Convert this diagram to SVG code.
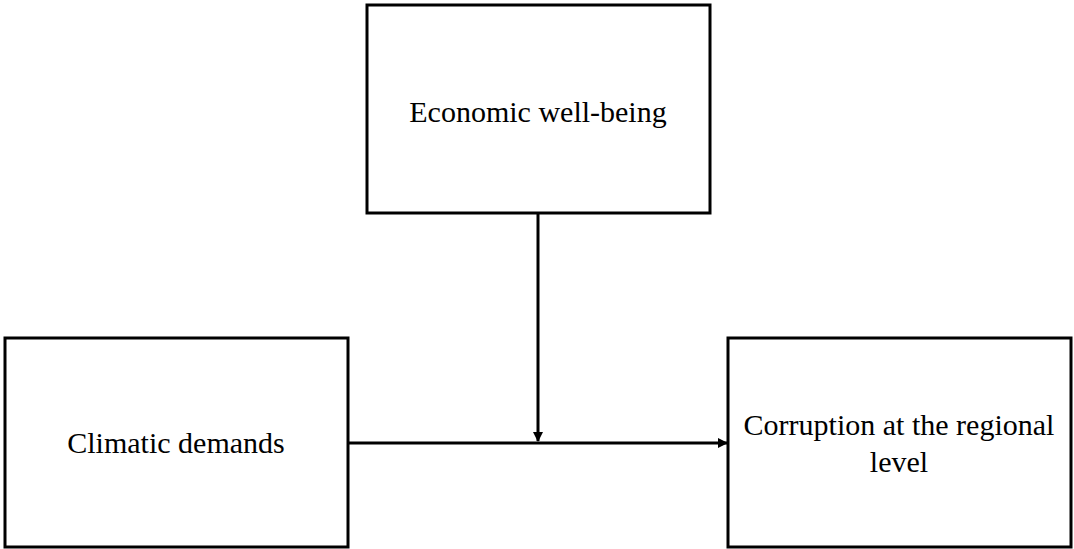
<svg xmlns="http://www.w3.org/2000/svg" width="1074" height="549" viewBox="0 0 1074 549">
<style>
.box{fill:#fff;stroke:#000;stroke-width:3}
.lbl{font-family:"Liberation Serif","Times New Roman",serif;font-size:30px;fill:#000;text-anchor:middle}
.conn{stroke:#000;stroke-width:3;fill:none}
</style>
<defs>
<marker id="arr" markerWidth="10" markerHeight="10" refX="9" refY="5" orient="auto" markerUnits="userSpaceOnUse">
<path d="M0,0 L10,5 L0,10 Z" fill="#000"/>
</marker>
</defs>
<rect width="1074" height="549" fill="#fff"/>
<g id="connectors">
<line class="conn" x1="349" y1="443" x2="727" y2="443" marker-end="url(#arr)"/>
<line class="conn" x1="538" y1="214" x2="538" y2="441" marker-end="url(#arr)"/>
</g>
<g id="economic">
<rect class="box" x="367" y="5" width="343" height="208"/>
<text class="lbl" x="538" y="122">Economic well-being</text>
</g>
<g id="climatic">
<rect class="box" x="5" y="338" width="343" height="209"/>
<text class="lbl" x="176" y="453">Climatic demands</text>
</g>
<g id="corruption">
<rect class="box" x="728" y="338" width="343" height="209"/>
<text class="lbl" x="899" y="435">Corruption at the regional</text>
<text class="lbl" x="899" y="472">level</text>
</g>
</svg>
